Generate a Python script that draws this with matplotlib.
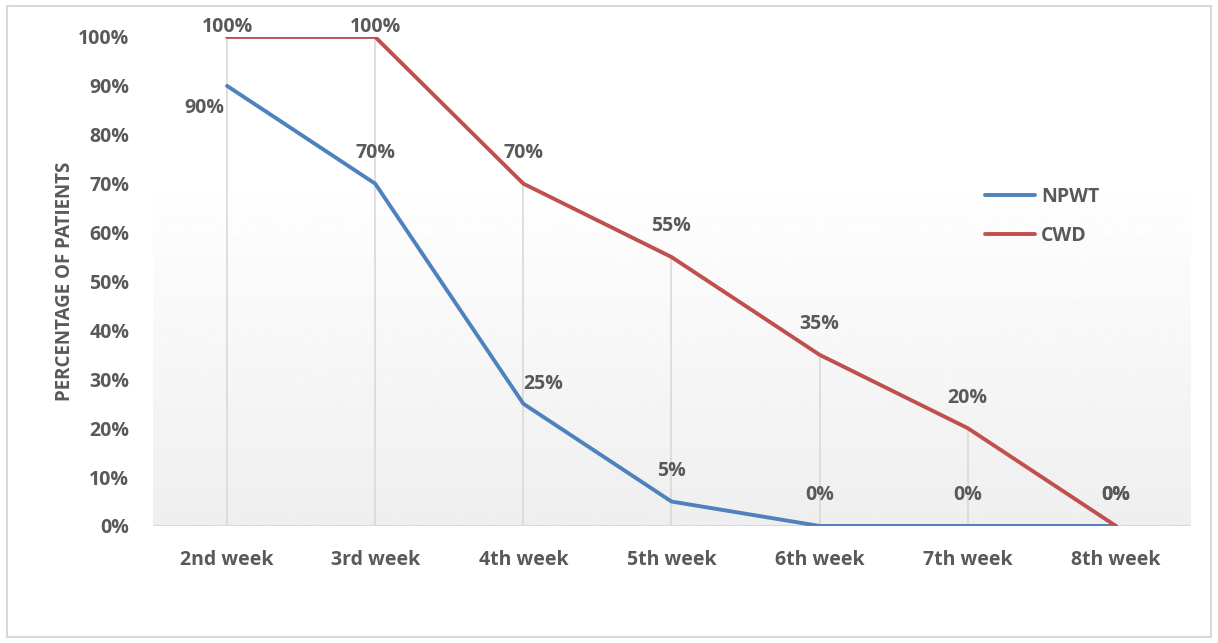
import numpy as np
import matplotlib
matplotlib.use("Agg")
import matplotlib.pyplot as plt
from matplotlib.patches import Rectangle

# chart data
weeks = ["2nd week", "3rd week", "4th week", "5th week", "6th week", "7th week", "8th week"]
npwt = [0.90, 0.70, 0.25, 0.05, 0.00, 0.00, 0.00]
cwd = [1.00, 1.00, 0.70, 0.55, 0.35, 0.20, 0.00]
npwt_label_offsets = [(-16, -16), (0, 22), (14, 14), (0, 22), (0, 22), (0, 22), (0, 22)]

BLUE = "#4F81BD"
RED = "#C0504D"
TEXT = "#595959"
GRID = "#D9D9D9"

plt.rcParams["font.family"] = ["Open Sans", "DejaVu Sans"]
plt.rcParams["font.weight"] = "bold"

fig = plt.figure(figsize=(12.18, 6.43), dpi=100)
fig.patch.set_facecolor("white")
fig.patches.append(Rectangle((0.006, 0.009), 0.988, 0.982, transform=fig.transFigure,
                             fill=False, edgecolor=GRID, linewidth=1.5))

ax = fig.add_axes([0.1256, 0.182, 0.8514, 0.7605])
x = np.arange(len(weeks))
ax.set_xlim(-0.5, len(weeks) - 0.5)
ax.set_ylim(0, 1.0)

# subtle gradient in the plot area (light gray at the bottom, white towards the top)
grad = np.linspace(0.935, 1.0, 256).reshape(-1, 1)
ax.imshow(grad, cmap="gray", vmin=0, vmax=1, aspect="auto", origin="lower",
          extent=(-0.5, len(weeks) - 0.5, 0, 0.72), zorder=0, interpolation="bilinear")

# drop lines
tops = [max(a, b) for a, b in zip(npwt, cwd)]
ax.vlines(x, 0, tops, color=GRID, linewidth=1.2, zorder=1)
ax.axhline(0, color=GRID, linewidth=1.5, zorder=1)

ax.plot(x, npwt, color=BLUE, linewidth=2.8, label="NPWT", zorder=3, solid_capstyle="round")
ax.plot(x, cwd, color=RED, linewidth=2.8, label="CWD", zorder=3, solid_capstyle="round")

for xi, v in zip(x, cwd):
    ax.annotate(f"{v:.0%}", (xi, v), xytext=(0, 22 if v < 1 else 7), textcoords="offset points",
                ha="center", va="center", fontsize=14, color=TEXT, fontweight="bold")
for xi, v, off in zip(x, npwt, npwt_label_offsets):
    ax.annotate(f"{v:.0%}", (xi, v), xytext=off, textcoords="offset points",
                ha="center", va="center", fontsize=14, color=TEXT, fontweight="bold")

ax.set_xticks(x)
ax.set_xticklabels(weeks)
ax.set_yticks(np.arange(0, 1.01, 0.1))
ax.set_yticklabels([f"{t:.0%}" for t in np.arange(0, 1.01, 0.1)])
ax.tick_params(axis="both", length=0, labelsize=14, labelcolor=TEXT)
ax.tick_params(axis="x", pad=17)
ax.tick_params(axis="y", pad=17)
for lab in ax.get_xticklabels() + ax.get_yticklabels():
    lab.set_fontweight("bold")
for s in ax.spines.values():
    s.set_visible(False)
ax.set_facecolor("white")

ax.set_ylabel("PERCENTAGE OF PATIENTS", fontsize=13.5, color=TEXT, fontweight="bold", labelpad=2)

leg = ax.legend(loc="upper left", bbox_to_anchor=(0.785, 0.73), frameon=False, fontsize=14,
                handlelength=2.6, labelspacing=1.0, handletextpad=0.3)
for t in leg.get_texts():
    t.set_color(TEXT)
    t.set_fontweight("bold")

fig.savefig("out.png", dpi=100)
